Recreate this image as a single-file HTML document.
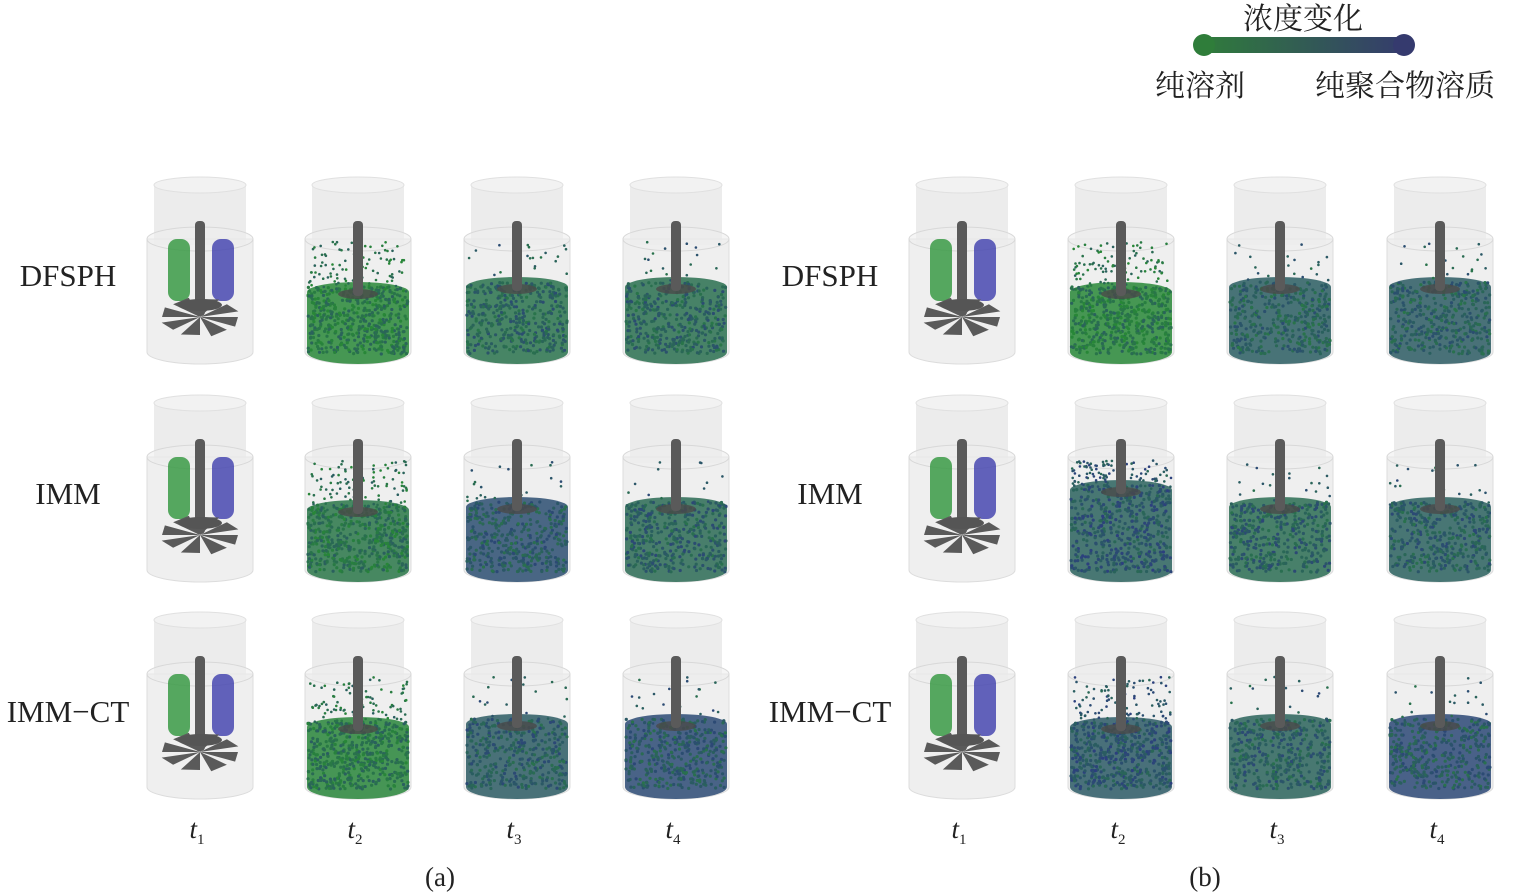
<!DOCTYPE html>
<html><head><meta charset="utf-8"><style>
html,body{margin:0;padding:0;background:#fff;}
svg{display:block;}
text{font-family:"Liberation Serif","Noto Serif CJK SC",serif;fill:#222;}
.cjk{font-family:"Liberation Serif","Noto Serif CJK SC",serif;}
</style></head><body>
<svg id="s" width="1517" height="892" viewBox="0 0 1517 892" xmlns="http://www.w3.org/2000/svg">
<defs>
<linearGradient id="g" x1="0" x2="1"><stop offset="0" stop-color="#2f7d3a"/><stop offset="1" stop-color="#353a6e"/></linearGradient>
</defs>
<g id="cells"></g>
<text x="1303" y="29" font-size="30" text-anchor="middle" class="cjk">浓度变化</text>
<rect x="1197" y="37" width="214" height="16" rx="8" fill="url(#g)"/>
<circle cx="1204" cy="45" r="11" fill="#2f7d3a"/>
<circle cx="1404" cy="45" r="11" fill="#353a6e"/>
<text x="1200" y="96" font-size="30" text-anchor="middle" class="cjk">纯溶剂</text>
<text x="1405" y="96" font-size="30" text-anchor="middle" class="cjk">纯聚合物溶质</text>
<g font-size="31">
<text x="68" y="286" text-anchor="middle">DFSPH</text>
<text x="68" y="504" text-anchor="middle">IMM</text>
<text x="68" y="722" text-anchor="middle">IMM−CT</text>
<text x="830" y="286" text-anchor="middle">DFSPH</text>
<text x="830" y="504" text-anchor="middle">IMM</text>
<text x="830" y="722" text-anchor="middle">IMM−CT</text>
</g>
<g font-size="27" font-style="italic" id="tl"></g>
<text x="440" y="886" font-size="27" text-anchor="middle">(a)</text>
<text x="1205" y="886" font-size="27" text-anchor="middle">(b)</text>
</svg>
<script>
(function(){
var seed=7;function r(){seed=(seed*16807)%2147483647;return seed/2147483647;}
var cx=[200,358,517,676,962,1121,1280,1440],ry=[177,395,612];
var out='';
function col(mix){
  var g=[40,135,55],b=[45,50,140];var t=Math.min(1,Math.max(0,mix+(r()-0.5)*0.5));
  return 'rgb('+g.map(function(v,i){return Math.round(v+(b[i]-v)*t)}).join(',')+')';
}
for(var c=0;c<8;c++){for(var rw=0;rw<3;rw++){
 var x=cx[c],y=ry[rw],ti=c%4;
 out+='<rect x="'+(x-46)+'" y="'+(y+8)+'" width="92" height="60" fill="#ececec"/>';
 out+='<ellipse cx="'+x+'" cy="'+(y+8)+'" rx="46" ry="8" fill="#f2f2f2" stroke="#e0e0e0"/>';
 out+='<path d="M'+(x-53)+' '+(y+62)+' L'+(x-53)+' '+(y+175)+' A53 12 0 0 0 '+(x+53)+' '+(y+175)+' L'+(x+53)+' '+(y+62)+' Z" fill="#e9e9e9" fill-opacity="0.75" stroke="#dcdcdc"/>';
 out+='<ellipse cx="'+x+'" cy="'+(y+62)+'" rx="53" ry="12" fill="#efefef" fill-opacity="0.6" stroke="#d8d8d8"/>';
 if(ti==0){
  out+='<rect x="'+(x-5)+'" y="'+(y+44)+'" width="10" height="95" rx="4" fill="#5a5a5a"/>';
  out+='<rect x="'+(x-32)+'" y="'+(y+62)+'" width="22" height="62" rx="9" fill="#3a9a45" opacity="0.85"/>';
  out+='<rect x="'+(x+12)+'" y="'+(y+62)+'" width="22" height="62" rx="9" fill="#4848b0" opacity="0.85"/>';
  for(var k=0;k<8;k++){var a=k*Math.PI/4;out+='<path d="M'+x+' '+(y+140)+' L'+(x+Math.cos(a)*38)+' '+(y+140+Math.sin(a)*18)+' L'+(x+Math.cos(a+0.5)*40)+' '+(y+140+Math.sin(a+0.5)*20)+' Z" fill="#5a5a5a"/>';}
  out+='<ellipse cx="'+x+'" cy="'+(y+128)+'" rx="22" ry="6" fill="#555"/>';
 } else {
  var mix=(rw==0? (ti==1?0.2:0.45):(ti==1?(c>4?0.6:0.25):0.5));
  var tp=ti==1?(c>4&&rw==1?95:115):(rw==0?110:112);
  out+='<path d="M'+(x-51)+' '+(y+tp)+' A51 10 0 0 1 '+(x+51)+' '+(y+tp)+' L'+(x+51)+' '+(y+175)+' A51 12 0 0 1 '+(x-51)+' '+(y+175)+' Z" fill="'+col(mix)+'" opacity="0.85"/>';
  var n=ti==1?500:400;
  for(var k=0;k<n;k++){var px=x+(r()*2-1)*50,py=y+tp-5+r()*(182-tp);
   out+='<circle cx="'+px.toFixed(1)+'" cy="'+py.toFixed(1)+'" r="1.6" fill="'+col(mix)+'"/>';}
  var sc=ti==1?110:20;
  for(var k=0;k<sc;k++){var px=x+(r()*2-1)*50,py=y+65+r()*(tp-65);
   out+='<circle cx="'+px.toFixed(1)+'" cy="'+py.toFixed(1)+'" r="1.3" fill="'+col(mix)+'"/>';}
  out+='<ellipse cx="'+x+'" cy="'+(y+tp+2)+'" rx="20" ry="5" fill="#4a4a4a" opacity="0.8"/>';
  out+='<rect x="'+(x-5)+'" y="'+(y+44)+'" width="10" height="'+(tp-40)+'" rx="4" fill="#5a5a5a"/>';
 }
}}
document.getElementById('cells').innerHTML=out;
var t='';for(var c=0;c<8;c++){t+='<text x="'+(cx[c]-3)+'" y="838" text-anchor="middle">t<tspan font-size="15" font-style="normal" dy="6">'+(c%4+1)+'</tspan></text>';}
document.getElementById('tl').innerHTML=t;
})();
</script>
</body></html>
